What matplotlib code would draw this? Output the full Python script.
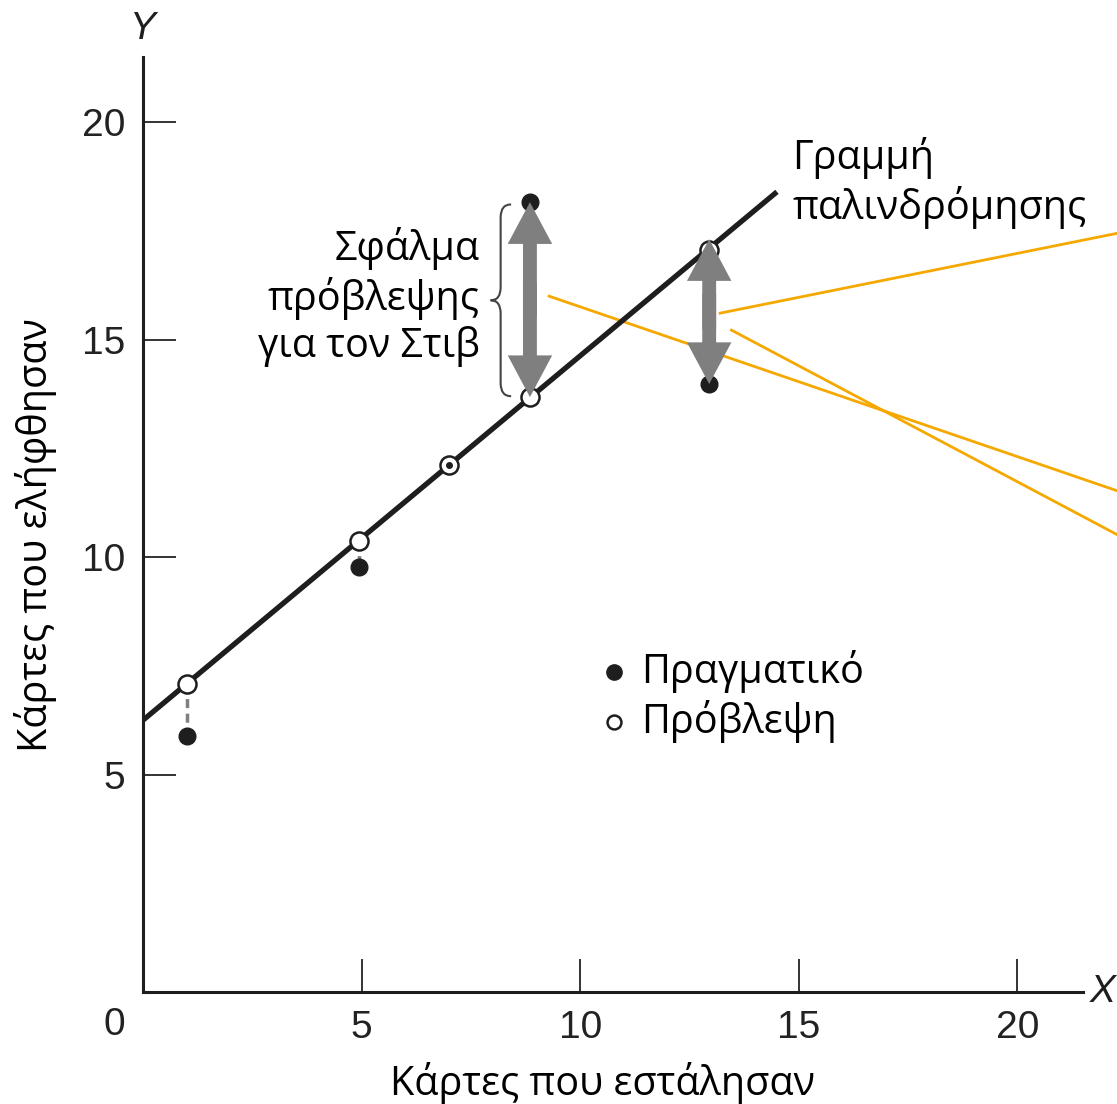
import matplotlib.pyplot as plt
from matplotlib.path import Path
from matplotlib.patches import PathPatch, FancyArrowPatch

# Data
x_vals = [1.0, 4.95, 7.0, 8.85, 12.95]
actual = [5.88, 9.77, 12.11, 18.16, 13.98]
predicted = [7.08, 10.37, 12.11, 13.68, 17.06]
line_x = [0.0, 14.5]
line_y = [6.25, 18.4]
ticks = [5, 10, 15, 20]

GREEK = ['Open Sans', 'DejaVu Sans']
NUM = ['Liberation Sans', 'DejaVu Sans']
INK = '#1e1e1e'
GRAY = '#7f7f7f'
ORANGE = '#f5a800'
FS = 28.5

fig = plt.figure(figsize=(11.17, 11.04), dpi=100)
ax = fig.add_axes([143 / 1117, 112 / 1104, 940 / 1117, 935 / 1104])
ax.set_xlim(0, 21.5)
ax.set_ylim(0, 21.5)

for s in ['top', 'right']:
    ax.spines[s].set_visible(False)
for s in ['left', 'bottom']:
    ax.spines[s].set_linewidth(2.2)
    ax.spines[s].set_color(INK)

ax.set_xticks(ticks)
ax.set_yticks(ticks)
ax.tick_params(direction='in', length=24, width=1.4, color='#333333',
               pad=13, labelsize=28, labelcolor='#222222')
for lab in ax.get_xticklabels() + ax.get_yticklabels():
    lab.set_family(NUM)
ax.text(-0.65, -0.75, '0', fontsize=28, family=NUM, color='#222222',
        ha='center', va='center', clip_on=False)

# axis names
ax.text(0, 22.15, 'Y', fontsize=28, family=NUM, style='italic', color=INK,
        ha='center', va='center', clip_on=False)
ax.text(21.95, 0, 'X', fontsize=28, family=NUM, style='italic', color=INK,
        ha='center', va='center', clip_on=False)
fig.text(603 / 1117, 9 / 1104, 'Κάρτες που εστάλησαν', fontsize=FS, family=GREEK,
         ha='center', va='baseline')
fig.text(36 / 1117, 1 - 535 / 1104, 'Κάρτες που ελήφθησαν', fontsize=FS, family=GREEK,
         ha='center', va='center', rotation=90)

# orange pointer lines (run off the right edge)
ax.plot([9.29, 22.5], [16.0, 11.45], color=ORANGE, lw=2, clip_on=False, zorder=2)
ax.plot([13.2, 22.5], [15.61, 17.49], color=ORANGE, lw=2, clip_on=False, zorder=2)
ax.plot([13.46, 22.5], [15.22, 10.4], color=ORANGE, lw=2, clip_on=False, zorder=2)

# regression line
ax.plot(line_x, line_y, color=INK, lw=3.8, solid_capstyle='butt', zorder=3)

# dashed connectors for the small errors (under the markers)
for i in [0, 1]:
    ax.plot([x_vals[i], x_vals[i]], [predicted[i], actual[i]],
            color=GRAY, lw=2.5, dashes=(2.6, 1.6), zorder=2.5)

# points
ax.plot(x_vals, actual, 'o', ms=12, color=INK, zorder=4)
ax.plot(x_vals, predicted, 'o', ms=13, mfc='white', mec=INK, mew=1.8, zorder=5)
ax.plot([x_vals[2]], [actual[2]], 'o', ms=4, color=INK, zorder=6)

# thick double arrows for the big errors
style = 'simple,head_length=1.5,head_width=1.6,tail_width=0.5'
for i, (lo, hi) in [(3, (predicted[3], actual[3])), (4, (actual[4], predicted[4] + 0.25))]:
    mid = (lo + hi) / 2
    for end, start in ((lo, mid + 0.4), (hi, mid - 0.4)):
        ax.add_patch(FancyArrowPatch((x_vals[i], start), (x_vals[i], end),
                                     arrowstyle=style, mutation_scale=20,
                                     color=GRAY, lw=0, shrinkA=0, shrinkB=0,
                                     zorder=7))

# brace beside the Stiv error
bx, sx, tx = 8.42, 8.18, 7.95
top, bot = actual[3] - 0.05, predicted[3] + 0.02
midy = (top + bot) / 2
verts = [(bx, top), (sx, top), (sx, top - 0.3),
         (sx, midy + 0.3), (sx, midy), (tx, midy),
         (sx, midy), (sx, midy - 0.3),
         (sx, bot + 0.3), (sx, bot), (bx, bot)]
codes = [Path.MOVETO, Path.CURVE3, Path.CURVE3,
         Path.LINETO, Path.CURVE3, Path.CURVE3,
         Path.CURVE3, Path.CURVE3,
         Path.LINETO, Path.CURVE3, Path.CURVE3]
ax.add_patch(PathPatch(Path(verts, codes), fill=False, lw=1.5, color='#444444', zorder=3))

ax.text(7.7, 15.98, 'Σφάλμα\nπρόβλεψης\nγια τον Στιβ', fontsize=FS, family=GREEK,
        ha='right', va='center', multialignment='right', linespacing=1.2, color='black')
ax.text(14.85, 18.6, 'Γραμμή\nπαλινδρόμησης', fontsize=FS, family=GREEK,
        ha='left', va='center', linespacing=1.2, color='black')

# legend
ax.plot([10.78], [7.36], 'o', ms=11, color=INK)
ax.plot([10.78], [6.21], 'o', ms=10, mfc='white', mec=INK, mew=1.8)
ax.text(11.4, 7.36, 'Πραγματικό', fontsize=FS, family=GREEK, va='center', color='black')
ax.text(11.4, 6.21, 'Πρόβλεψη', fontsize=FS, family=GREEK, va='center', color='black')

fig.savefig('out.png', dpi=100)
